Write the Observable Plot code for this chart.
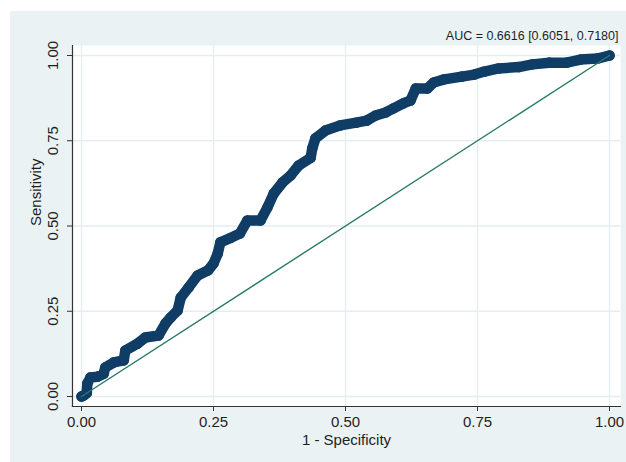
<!DOCTYPE html>
<html>
<head>
<meta charset="utf-8">
<script src="https://cdn.jsdelivr.net/npm/d3@7"></script>
<script src="https://cdn.jsdelivr.net/npm/@observablehq/plot@0.6"></script>
<style>
  html, body { margin: 0; padding: 0; background: #ffffff; }
  #wrap { position: relative; width: 626px; height: 462px; overflow: hidden; }
  #bg { position: absolute; left: 10px; top: 11px; width: 616px; height: 451px; background: #eaf2f3; }
  #chart { position: absolute; left: 0; top: 0; }
  #chart svg { background: transparent; font-family: "Liberation Sans", Arial, sans-serif; }
</style>
</head>
<body>
<div id="wrap"><div id="bg"></div><div id="chart"></div></div>
<script>
// 1 - specificity (false positive rate)
const fpr = [0, 0.004, 0.010, 0.011, 0.017, 0.030, 0.042, 0.045, 0.061, 0.080, 0.083, 0.106, 0.121, 0.146,
  0.159, 0.169, 0.182, 0.188, 0.203, 0.220, 0.240, 0.250, 0.258, 0.263, 0.282, 0.300, 0.314, 0.339,
  0.352, 0.364, 0.381, 0.396, 0.411, 0.434, 0.437, 0.443, 0.462, 0.490, 0.520, 0.540, 0.557, 0.576,
  0.591, 0.610, 0.623, 0.633, 0.655, 0.667, 0.687, 0.720, 0.744, 0.763, 0.790, 0.828, 0.854, 0.886,
  0.919, 0.945, 0.977, 1.0];
// sensitivity (true positive rate)
const tpr = [0, 0.003, 0.010, 0.038, 0.056, 0.058, 0.067, 0.085, 0.100, 0.106, 0.135, 0.155, 0.173, 0.179,
  0.214, 0.232, 0.252, 0.290, 0.320, 0.355, 0.370, 0.390, 0.419, 0.452, 0.465, 0.478, 0.516, 0.516,
  0.554, 0.595, 0.628, 0.648, 0.677, 0.700, 0.727, 0.757, 0.780, 0.795, 0.803, 0.809, 0.824, 0.833,
  0.845, 0.860, 0.868, 0.903, 0.903, 0.921, 0.930, 0.938, 0.944, 0.953, 0.962, 0.966, 0.974, 0.979,
  0.979, 0.988, 0.991, 1.0];
// reference (chance) line end points
const refLine = [0, 1];
const ticks = [0, 0.25, 0.5, 0.75, 1];
const aucLabel = "AUC = 0.6616 [0.6051, 0.7180]";
const xTitle = "1 - Specificity";
const yTitle = "Sensitivity";

const roc = fpr.map((x, i) => ({x, y: tpr[i]}));
const ref = refLine.map(v => ({x: v, y: v}));
const fmt = d3.format(".2f");

const navy = "#0f3d66";
const green = "#2a7a66";
const textColor = "#1f1f1f";

const chart = Plot.plot({
  width: 626,
  height: 462,
  marginLeft: 72,
  marginRight: 6,
  marginTop: 45,
  marginBottom: 56,
  insetLeft: 9,
  insetRight: 11,
  insetTop: 10,
  insetBottom: 10,
  style: {fontFamily: "'Liberation Sans', Arial, sans-serif", fontSize: "15px", color: textColor, background: "transparent"},
  x: {domain: [0, 1]},
  y: {domain: [0, 1]},
  marks: [
    Plot.frame({fill: "#ffffff", stroke: "none"}),
    Plot.gridX(ticks, {stroke: "#e4eef0", strokeOpacity: 1, strokeWidth: 1.3}),
    Plot.gridY(ticks, {stroke: "#e4eef0", strokeOpacity: 1, strokeWidth: 1.3}),
    Plot.axisX(ticks, {anchor: "bottom", tickFormat: fmt, tickSize: 5, tickPadding: 5, stroke: "#333", fill: textColor, fontSize: 15, label: null}),
    Plot.axisY(ticks, {anchor: "left", tickFormat: () => "", tickSize: 5, stroke: "#333", label: null}),
    Plot.text(ticks, {y: d => d, text: d => fmt(d), frameAnchor: "left", rotate: -90, dx: -19, fill: textColor, fontSize: 15, textAnchor: "middle", lineAnchor: "middle"}),
    Plot.frame({anchor: "left", stroke: "#333", strokeWidth: 1.2}),
    Plot.frame({anchor: "bottom", stroke: "#333", strokeWidth: 1.2}),
    Plot.line(roc, {x: "x", y: "y", stroke: navy, strokeWidth: 10.5, strokeLinejoin: "round", strokeLinecap: "round"}),
    Plot.dot(roc, {x: "x", y: "y", r: 5.3, fill: navy, stroke: "none"}),
    Plot.line(ref, {x: "x", y: "y", stroke: green, strokeWidth: 1.4}),
    Plot.text([aucLabel], {frameAnchor: "top-right", text: d => d, dy: -9.5, dx: -2, fontSize: 12.5, fill: textColor, textAnchor: "end", lineAnchor: "middle"}),
    Plot.text([xTitle], {frameAnchor: "bottom", text: d => d, dy: 34, fontSize: 15, fill: textColor, lineAnchor: "middle"}),
    Plot.text([yTitle], {frameAnchor: "left", text: d => d, rotate: -90, dx: -36, fontSize: 15, fill: textColor, lineAnchor: "middle"})
  ]
});
document.getElementById("chart").appendChild(chart);
</script>
</body>
</html>
